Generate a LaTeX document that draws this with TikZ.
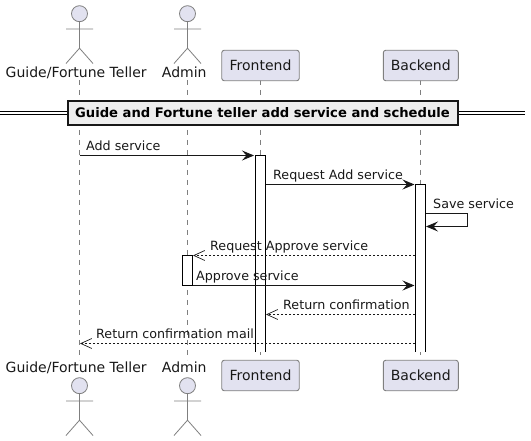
\documentclass[tikz,border=0pt]{standalone}
\usepackage{fontspec}
\setmainfont{DejaVu Sans}
\usetikzlibrary{arrows.meta}
\definecolor{partfill}{HTML}{E2E2F0}
\definecolor{partline}{HTML}{7F7F7F}
\definecolor{dividerfill}{HTML}{EEEEEE}
\definecolor{msgline}{HTML}{181818}
\tikzset{
	participant/.style={draw=partline, fill=partfill, line width=0.9pt, rounded corners=2.5pt, minimum height=30.5pt, inner sep=0pt, font=\fontsize{14}{16}\selectfont, text=msgline},
	actorname/.style={anchor=base, inner sep=0pt, font=\fontsize{14}{16}\selectfont, text=msgline},
	actorline/.style={draw=partline, line width=0.8pt},
	lifeline/.style={draw=partline, line width=0.7pt, dash pattern=on 5pt off 5pt},
	activation/.style={fill=white, draw=none},
	barline/.style={draw=black, line width=0.9pt},
	msglabel/.style={anchor=base west, inner sep=0pt, font=\fontsize{12.7}{15}\selectfont, text=msgline},
	request/.style={draw=msgline, line width=0.9pt, -{Stealth[length=12pt, width=10pt, inset=4.5pt]}},
	reply/.style={draw=msgline, line width=0.8pt, dash pattern=on 2pt off 2pt, -{Straight Barb[length=11pt, width=10pt, line width=0.7pt]}},
}
\begin{document}
\begin{tikzpicture}[x=1pt, y=-1pt]
	\useasboundingbox (0, 0) rectangle (531, 441);
	% Lifelines
	\coordinate (guideTop) at (79.5, 80);
	\coordinate (guideEnd) at (79.5, 360);
	\coordinate (adminTop) at (187.5, 80);
	\coordinate (adminEnd) at (187.5, 360);
	\coordinate (frontTop) at (260.5, 80);
	\coordinate (frontEnd) at (260.5, 360);
	\coordinate (backTop) at (420.5, 80);
	\coordinate (backEnd) at (420.5, 360);
	\draw[lifeline] (guideTop) -- (guideEnd);
	\draw[lifeline] (adminTop) -- (adminEnd);
	\draw[lifeline] (frontTop) -- (frontEnd);
	\draw[lifeline] (backTop) -- (backEnd);
	% Participants
	\node[participant, minimum width=77.5pt] (frontA) at (260.5, 65.5) {Frontend};
	\node[participant, minimum width=75pt] (backA) at (420.8, 65.5) {Backend};
	\node[participant, minimum width=77.5pt] (frontB) at (260.5, 375.5) {Frontend};
	\node[participant, minimum width=75pt] (backB) at (420.8, 375.5) {Backend};
	% Actors, head at \hy
	\foreach \ax in {79.5, 187.5}
		\foreach \hy in {13.7, 385.7} {
			\draw[actorline, fill=partfill] (\ax, \hy) circle (8);
			\draw[actorline] (\ax, \hy + 8) -- (\ax, \hy + 34.5)
				(\ax - 13.5, \hy + 15.3) -- (\ax + 13.5, \hy + 15.3)
				(\ax - 13.5, \hy + 49.8) -- (\ax, \hy + 34.5) -- (\ax + 13.5, \hy + 49.8);
		}
	\node[actorname] (guideA) at (76.2, 78) {Guide/Fortune Teller};
	\node[actorname] (adminA) at (184.3, 78) {Admin};
	\node[actorname] (guideB) at (76.2, 373) {Guide/Fortune Teller};
	\node[actorname] (adminB) at (184.3, 373) {Admin};
	% Divider
	\coordinate (ruleLeft) at (0, 113.2);
	\coordinate (ruleRight) at (525, 113.2);
	\draw[draw=black, line width=4.6pt] (ruleLeft) -- (ruleRight);
	\draw[draw=white, line width=2pt] (ruleLeft) -- (ruleRight);
	\node[draw=msgline, fill=dividerfill, line width=2pt, minimum width=390pt, minimum height=23.5pt, inner sep=0pt, font=\fontsize{13.15}{15}\selectfont\bfseries] (divider) at (262.5, 112.8) {Guide and Fortune teller add service and schedule};
	% Activation bars (no closing line at the foot)
	\fill[activation] (255.3, 155.3) rectangle (265.3, 352);
	\draw[barline] (255.3, 352) -- (255.3, 155.3) -- (265.3, 155.3) -- (265.3, 352);
	\fill[activation] (415.5, 184.3) rectangle (425.5, 352);
	\draw[barline] (415.5, 352) -- (415.5, 184.3) -- (425.5, 184.3) -- (425.5, 352);
	\draw[barline, fill=white] (182.5, 255.5) rectangle (192.5, 285.5);
	% Messages
	\coordinate (addFrom) at (79.5, 155.5);
	\coordinate (addTo) at (254, 155.5);
	\draw[request] (addFrom) -- (addTo);
	\node[msglabel] (addLabel) at (86, 150.6) {Add service};
	\coordinate (reqFrom) at (265.5, 184.5);
	\coordinate (reqTo) at (414.5, 184.5);
	\draw[request] (reqFrom) -- (reqTo);
	\node[msglabel] (reqLabel) at (273, 179.6) {Request Add service};
	\coordinate (saveFrom) at (425.5, 213.5);
	\coordinate (saveTurnA) at (467.5, 213.5);
	\coordinate (saveTurnB) at (467.5, 226.5);
	\coordinate (saveTo) at (426, 226.5);
	\draw[request] (saveFrom) -- (saveTurnA) -- (saveTurnB) -- (saveTo);
	\node[msglabel] (saveLabel) at (433, 208.6) {Save service};
	\coordinate (apprFrom) at (415, 255.5);
	\coordinate (apprTo) at (193, 255.5);
	\draw[reply] (apprFrom) -- (apprTo);
	\node[msglabel] (apprLabel) at (210, 251) {Request Approve service};
	\coordinate (doneFrom) at (192.5, 285.5);
	\coordinate (doneTo) at (414.5, 285.5);
	\draw[request] (doneFrom) -- (doneTo);
	\node[msglabel] (doneLabel) at (196, 280) {Approve service};
	\coordinate (confFrom) at (415, 314.5);
	\coordinate (confTo) at (266, 314.5);
	\draw[reply] (confFrom) -- (confTo);
	\node[msglabel] (confLabel) at (283, 309) {Return confirmation};
	\coordinate (mailFrom) at (415, 343.5);
	\coordinate (mailTo) at (80, 343.5);
	\draw[reply] (mailFrom) -- (mailTo);
	\node[msglabel] (mailLabel) at (96, 338) {Return confirmation mail};
\end{tikzpicture}
\end{document}
